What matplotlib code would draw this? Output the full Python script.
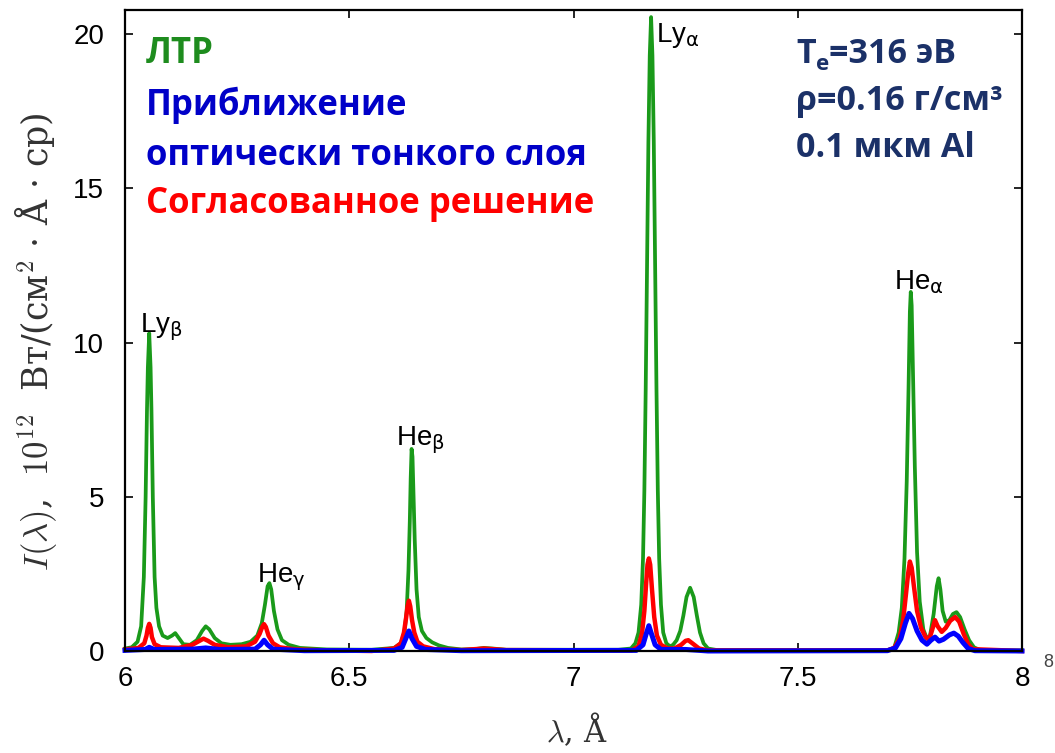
import matplotlib
matplotlib.use("Agg")
import matplotlib.pyplot as plt

# ---- spectra: wavelength (Angstrom) and intensity (10^12 W/(cm^2 A sr)) ----
# LTE
ltr_wl = [6.000, 6.015, 6.028, 6.036, 6.042, 6.046, 6.049, 6.051, 6.054, 6.057, 6.059, 6.062, 6.066, 6.070, 6.076, 6.084,
          6.095, 6.105, 6.112, 6.120, 6.130, 6.145, 6.160, 6.172, 6.180, 6.188, 6.200, 6.215, 6.235, 6.260,
          6.280, 6.295, 6.305, 6.312, 6.318, 6.322, 6.326, 6.332, 6.340, 6.350, 6.365, 6.390, 6.450, 6.550,
          6.600, 6.615, 6.623, 6.628, 6.632, 6.635, 6.637, 6.639, 6.641, 6.643, 6.646, 6.650, 6.655, 6.662, 6.672, 6.685,
          6.700, 6.720, 6.750, 6.780, 6.800, 6.820, 6.850, 7.100,
          7.128, 7.138, 7.145, 7.151, 7.155, 7.158, 7.161, 7.164, 7.167, 7.170, 7.173, 7.176, 7.179, 7.182, 7.185, 7.188,
          7.191, 7.195, 7.200, 7.207, 7.215, 7.222, 7.230, 7.238, 7.245, 7.252, 7.260, 7.268, 7.275, 7.282, 7.290, 7.300,
          7.320, 7.700,
          7.715, 7.725, 7.732, 7.738, 7.743, 7.747, 7.750, 7.752, 7.754, 7.757, 7.761, 7.766, 7.772, 7.780, 7.788, 7.795,
          7.803, 7.810, 7.814, 7.818, 7.823, 7.830, 7.838, 7.846, 7.854, 7.862, 7.872, 7.882, 7.893, 7.905, 7.930, 8.000]
ltr_int = [0.08, 0.12, 0.3, 0.8, 2.4, 5.0, 7.8, 9.2, 10.3, 9.2, 7.8, 5.0, 2.4, 1.4, 0.8, 0.5,
           0.42, 0.5, 0.58, 0.42, 0.22, 0.2, 0.35, 0.65, 0.8, 0.7, 0.42, 0.25, 0.2, 0.22,
           0.3, 0.5, 0.9, 1.5, 2.1, 2.2, 2.0, 1.3, 0.7, 0.35, 0.2, 0.1, 0.05, 0.04,
           0.1, 0.25, 0.6, 1.3, 2.6, 4.2, 5.6, 6.55, 6.3, 5.2, 3.6, 2.0, 1.1, 0.65, 0.42, 0.28,
           0.18, 0.1, 0.05, 0.06, 0.1, 0.08, 0.04, 0.04,
           0.08, 0.25, 0.6, 1.5, 3.0, 5.2, 8.5, 12.5, 16.5, 19.3, 20.55, 19.3, 16.5, 12.5, 8.5, 5.2,
           3.0, 1.5, 0.6, 0.25, 0.15, 0.2, 0.35, 0.65, 1.15, 1.75, 2.05, 1.75, 1.15, 0.6, 0.25, 0.08,
           0.03, 0.03,
           0.1, 0.6, 1.4, 3.0, 5.5, 8.5, 11.0, 11.64, 11.2, 9.0, 6.0, 3.2, 1.6, 0.7, 0.4, 0.5,
           1.2, 2.1, 2.36, 2.0, 1.3, 0.95, 1.0, 1.2, 1.26, 1.1, 0.7, 0.35, 0.12, 0.04, 0.02, 0.02]

# optically thin approximation
thin_wl = [6.000, 6.045, 6.054, 6.065, 6.150, 6.180, 6.210,
           6.290, 6.302, 6.310, 6.318, 6.330, 6.400,
           6.600, 6.618, 6.626, 6.633, 6.640, 6.650, 6.670, 6.750,
           7.140, 7.155, 7.162, 7.168, 7.174, 7.182, 7.195, 7.250, 7.300,
           7.700, 7.718, 7.730, 7.740, 7.748, 7.756, 7.766, 7.777, 7.788, 7.797,
           7.806, 7.815, 7.825, 7.838, 7.848, 7.858, 7.868, 7.880, 7.895, 8.000]
thin_int = [0.02, 0.05, 0.12, 0.05, 0.06, 0.1, 0.05,
            0.06, 0.2, 0.35, 0.2, 0.06, 0.01,
            0.02, 0.12, 0.4, 0.65, 0.4, 0.15, 0.05, 0.01,
            0.02, 0.2, 0.55, 0.82, 0.55, 0.2, 0.05, 0.05, 0.0,
            0.01, 0.1, 0.4, 0.9, 1.22, 1.05, 0.65, 0.35, 0.22, 0.35,
            0.45, 0.32, 0.38, 0.52, 0.58, 0.48, 0.28, 0.08, 0.01, 0.0]

# self-consistent solution
sc_wl = [6.000, 6.030, 6.043, 6.048, 6.051, 6.054, 6.057, 6.060, 6.066, 6.080,
         6.120, 6.150, 6.165, 6.175, 6.185, 6.200, 6.230,
         6.270, 6.290, 6.300, 6.306, 6.310, 6.314, 6.320, 6.330, 6.345, 6.380, 6.450, 6.550,
         6.600, 6.615, 6.622, 6.627, 6.630, 6.633, 6.636, 6.640, 6.645, 6.652, 6.665, 6.690, 6.750, 6.800, 6.850,
         7.130, 7.145, 7.153, 7.158, 7.162, 7.165, 7.168, 7.171, 7.175, 7.180, 7.186, 7.195, 7.210, 7.225, 7.240,
         7.250, 7.256, 7.265, 7.280, 7.300,
         7.700, 7.715, 7.727, 7.735, 7.741, 7.746, 7.750, 7.754, 7.759, 7.766, 7.775, 7.785, 7.793, 7.800, 7.806,
         7.812, 7.821, 7.830, 7.840, 7.851, 7.860, 7.870, 7.880, 7.890, 8.000]
sc_int = [0.05, 0.1, 0.25, 0.5, 0.75, 0.88, 0.75, 0.45, 0.22, 0.12,
          0.1, 0.2, 0.32, 0.4, 0.33, 0.2, 0.12,
          0.15, 0.3, 0.55, 0.78, 0.87, 0.78, 0.5, 0.25, 0.12, 0.05, 0.02, 0.0,
          0.08, 0.25, 0.6, 1.1, 1.45, 1.63, 1.45, 1.0, 0.6, 0.3, 0.15, 0.06, 0.03, 0.08, 0.03,
          0.02, 0.15, 0.6, 1.3, 2.2, 2.8, 3.0, 2.8, 2.0, 1.1, 0.5, 0.2, 0.08, 0.08, 0.2,
          0.33, 0.35, 0.25, 0.08, 0.02,
          0.02, 0.1, 0.4, 1.0, 1.8, 2.5, 2.9, 2.7, 2.1, 1.3, 0.75, 0.45, 0.36, 0.7, 1.0,
          0.8, 0.62, 0.75, 0.98, 1.1, 0.95, 0.55, 0.22, 0.06, 0.0]

# line identifications: label, wavelength and height of the text baseline
line_names = [r"Ly$_{\mathrm{\beta}}$", r"He$_{\mathrm{\gamma}}$", r"He$_{\mathrm{\beta}}$",
              r"Ly$_{\mathrm{\alpha}}$", r"He$_{\mathrm{\alpha}}$"]
line_x = [6.034, 6.294, 6.604, 7.183, 7.715]
line_y = [10.34, 2.24, 6.68, 19.74, 11.73]

xticks = [6, 6.5, 7, 7.5, 8]
xtick_labels = ["6", "6.5", "7", "7.5", "8"]
yticks = [0, 5, 10, 15, 20]

legend_lines = ["ЛТР", "Приближение", "оптически тонкого слоя", "Согласованное решение"]
legend_colors = ["#1e8c1e", "#0000c8", "#0000c8", "#ff0000"]
legend_baselines = [63, 115, 165, 213]

W, H = 1055, 753
fig = plt.figure(figsize=(W / 100, H / 100), dpi=100)
ax = fig.add_axes([125 / W, 1 - 651 / H, 897 / W, 641 / H])

ax.plot(ltr_wl, ltr_int, color="#1a9a1a", lw=2.7, zorder=2.0, clip_on=False, solid_joinstyle="round")
ax.plot(sc_wl, sc_int, color="#ff0000", lw=3.2, zorder=2.1, clip_on=False, solid_joinstyle="round")
ax.plot(thin_wl, thin_int, color="#0000ff", lw=3.6, zorder=2.2, clip_on=False, solid_joinstyle="round")

ax.set_xlim(6, 8)
ax.set_ylim(0, 20.78)
ax.set_xticks(xticks)
ax.set_xticklabels(xtick_labels)
ax.set_yticks(yticks)
ax.tick_params(direction="in", length=6, width=1.2, top=True, right=True,
               labelsize=20, colors="black")
ax.tick_params(axis="y", pad=15)
ax.tick_params(axis="x", pad=11)
for lab in ax.get_xticklabels() + ax.get_yticklabels():
    lab.set_family("Liberation Sans")
for sp in ax.spines.values():
    sp.set_linewidth(1.6)

ax.set_ylabel(r"$I(\lambda)$,  $10^{12}$  Вт/(см$^2$ · Å · ср)",
              family="DejaVu Serif", math_fontfamily="cm", fontsize=25,
              color="#333333")
ax.yaxis.set_label_coords(-0.074, 0.482)
ax.set_xlabel(r"$\lambda$, Å", family="DejaVu Serif", math_fontfamily="cm",
              fontsize=22, color="#333333")
ax.xaxis.set_label_coords(0.504, -0.094)

for name, x, y in zip(line_names, line_x, line_y):
    ax.text(x, y, name, family="Liberation Sans", math_fontfamily="dejavusans",
            fontsize=20, va="baseline", ha="left", color="black")

bold_family = ["Open Sans", "DejaVu Sans"]


def ftext(px, py, s, **kw):
    return fig.text(px / W, 1 - py / H, s, va="baseline", ha="left", **kw)


for s, c, b in zip(legend_lines, legend_colors, legend_baselines):
    ftext(146, b, s, color=c, family=bold_family, fontweight="bold", fontsize=25)

# plasma parameters
navy = "#1b3168"
pfs = 24.5
renderer = fig.canvas.get_renderer()
t1 = ftext(796, 63, "T", color=navy, family=bold_family, fontweight="bold", fontsize=pfs)
x1 = t1.get_window_extent(renderer).x1
t2 = fig.text(x1 / W, 1 - 70 / H, "e", va="baseline", ha="left", color=navy,
              family=bold_family, fontweight="bold", fontsize=16)
x2 = t2.get_window_extent(renderer).x1
fig.text(x2 / W, 1 - 63 / H, "=316 эВ", va="baseline", ha="left", color=navy,
         family=bold_family, fontweight="bold", fontsize=pfs)
ftext(796, 110, "ρ=0.16 г/см³", color=navy, family=bold_family, fontweight="bold", fontsize=pfs)
ftext(796, 157, "0.1 мкм Al", color=navy, family=bold_family, fontweight="bold", fontsize=pfs)

ftext(1043, 667, "8", color="#444444", family="Liberation Sans", fontsize=13)

fig.savefig("out.png", dpi=100)
